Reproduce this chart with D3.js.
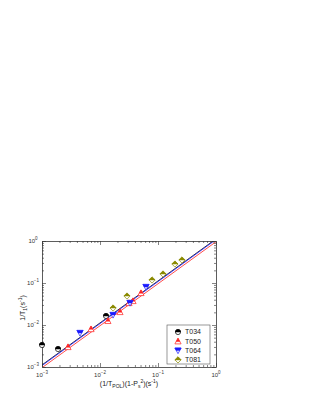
<!DOCTYPE html>
<html><head><meta charset="utf-8">
<script src="https://cdn.jsdelivr.net/npm/d3@7/dist/d3.min.js"></script>
<style>body{margin:0;background:#fff;}svg{display:block;font-family:"Liberation Sans",Arial,sans-serif;}</style>
</head><body><svg id="c" width="316" height="409"></svg>
<script>
const seriesNames = ["T034","T050","T064","T081"];
const seriesColors = ["#000000","#ff2020","#1a1aff","#8a8a00"];
const t034X = [0.00100,0.00189,0.0127];
const t034Y = [0.00334,0.00268,0.0164];
const t050X = [0.00281,0.0070,0.0137,0.0221,0.0316,0.0371,0.0509];
const t050Y = [0.00299,0.0080,0.0125,0.0204,0.0334,0.0373,0.0578];
const t064X = [0.00452,0.0168,0.0329,0.0621];
const t064Y = [0.00645,0.0173,0.0334,0.0803];
const t081X = [0.0168,0.0292,0.0789,0.122,0.196,0.259];
const t081Y = [0.0254,0.049,0.118,0.164,0.283,0.353];
const fitSlopes = [1.12,0.96,1.08]; // black, red, blue : y = a*x
const fitColors = ["#000000","#ff2020","#1a1aff"];
const tickExps = [-3,-2,-1,0];

const svg = d3.select("#c");
const L=42,R=216,T=241,B=367;
const x = d3.scaleLog().domain([1e-3,1]).range([L,R]);
const y = d3.scaleLog().domain([1e-3,1]).range([B,T]);

svg.append("defs").append("clipPath").attr("id","cp").append("rect")
  .attr("x",L).attr("y",T).attr("width",R-L).attr("height",B-T);

fitSlopes.forEach((a,i)=>{
  const xs=[1e-3,1];
  svg.append("path").attr("clip-path","url(#cp)")
    .attr("d",d3.line().x(d=>x(d)).y(d=>y(a*d))(xs))
    .attr("stroke",fitColors[i]).attr("stroke-width",0.8).attr("fill","none");
});

const allTicks=[];
for(let e=-3;e<0;e++) for(let m=1;m<10;m++) allTicks.push(m*Math.pow(10,e));
allTicks.push(1);
function addAxis(axisGen, tr){
  svg.append("g").attr("transform",tr).call(axisGen)
    .call(g=>g.select(".domain").attr("stroke","#333").attr("stroke-width",0.8))
    .call(g=>g.selectAll(".tick line").attr("stroke","#333").attr("stroke-width",0.6)
      .attr("y2",function(d){const v=Math.log10(d);const maj=Math.abs(v-Math.round(v))<1e-9;
        const cur=+d3.select(this).attr("y2");return cur? (cur<0?-1:1)*(maj?4:2):null;})
      .attr("x2",function(d){const v=Math.log10(d);const maj=Math.abs(v-Math.round(v))<1e-9;
        const cur=+d3.select(this).attr("x2");return cur? (cur<0?-1:1)*(maj?4:2):null;}))
    .call(g=>g.selectAll(".tick text").remove());
}
addAxis(d3.axisTop(x).tickValues(allTicks).tickSizeOuter(0),`translate(0,${B})`);
addAxis(d3.axisBottom(x).tickValues(allTicks).tickSizeOuter(0),`translate(0,${T})`);
addAxis(d3.axisRight(y).tickValues(allTicks).tickSizeOuter(0),`translate(${L},0)`);
addAxis(d3.axisLeft(y).tickValues(allTicks).tickSizeOuter(0),`translate(${R},0)`);

tickExps.forEach(e=>{
  const v=Math.pow(10,e);
  const tx=svg.append("text").attr("x",x(v)).attr("y",B+10).attr("text-anchor","middle")
    .attr("font-size",6).attr("fill","#333");
  tx.append("tspan").text("10");
  tx.append("tspan").attr("dy",-3).attr("font-size",4.5).text(e===0?"0":"−"+(-e));
  const ty=svg.append("text").attr("x",L-9).attr("y",y(v)+2).attr("text-anchor","middle")
    .attr("font-size",6).attr("fill","#333");
  ty.append("tspan").text("10");
  ty.append("tspan").attr("dy",-3).attr("font-size",4.5).text(e===0?"0":"−"+(-e));
});

const xl=svg.append("text").attr("x",(L+R)/2).attr("y",386).attr("text-anchor","middle")
  .attr("font-size",7).attr("fill","#222");
xl.append("tspan").text("(1/T");
xl.append("tspan").attr("dy",2).attr("font-size",5).text("POL");
xl.append("tspan").attr("dy",-2).text(")(1-P");
xl.append("tspan").attr("dy",2).attr("font-size",5).text("s");
xl.append("tspan").attr("dy",-5).attr("font-size",5).text("2");
xl.append("tspan").attr("dy",3).text(")(s");
xl.append("tspan").attr("dy",-3).attr("font-size",5).text("-1");
xl.append("tspan").attr("dy",3).text(")");

const yl=svg.append("text").attr("transform",`translate(25,${(T+B)/2+4}) rotate(-90)`)
  .attr("text-anchor","middle").attr("font-size",7).attr("fill","#222");
yl.append("tspan").text("1/T");
yl.append("tspan").attr("dy",2).attr("font-size",5).text("1");
yl.append("tspan").attr("dy",-2).text("(s");
yl.append("tspan").attr("dy",-3).attr("font-size",5).text("-1");
yl.append("tspan").attr("dy",3).text(")");

const s=2.6;
const shapes = {
  T034: {full:`M${-s},0A${s},${s} 0 1,1 ${s},0A${s},${s} 0 1,1 ${-s},0Z`, top:`M${-s},0A${s},${s} 0 0,1 ${s},0Z`},
  T050: {full:`M0,${-s-0.5}L${s+0.5},${s}L${-s-0.5},${s}Z`, top:`M0,${-s-0.5}L${(s+0.5)/2+0.2},0.2L${-(s+0.5)/2-0.2},0.2Z`},
  T064: {full:`M${-s-0.5},${-s}L${s+0.5},${-s}L0,${s+0.5}Z`, top:`M${-s-0.5},${-s}L${s+0.5},${-s}L${(s+0.5)*0.55},0L${-(s+0.5)*0.55},0Z`},
  T081: {full:`M0,${-s-0.5}L${s+0.5},0L0,${s+0.5}L${-s-0.5},0Z`, top:`M0,${-s-0.5}L${s+0.5},0L${-s-0.5},0Z`}
};
function marker(g,name,col,px,py){
  const sh=shapes[name];
  const gg=g.append("g").attr("transform",`translate(${px},${py})`);
  gg.append("path").attr("d",sh.full).attr("fill","#fff").attr("stroke",col).attr("stroke-width",0.7);
  gg.append("path").attr("d",sh.top).attr("fill",col).attr("stroke",col).attr("stroke-width",0.5);
}
const data=[[t034X,t034Y],[t050X,t050Y],[t064X,t064Y],[t081X,t081Y]];
const mg=svg.append("g");
data.forEach((d,i)=>{
  d[0].forEach((xv,j)=>marker(mg,seriesNames[i],seriesColors[i],x(xv),y(d[1][j])));
});

const lg=svg.append("g");
lg.append("rect").attr("x",167).attr("y",325).attr("width",43).attr("height",39)
  .attr("fill","#fff").attr("stroke","#555").attr("stroke-width",0.6);
seriesNames.forEach((n,i)=>{
  const yy=332+i*9.3;
  marker(lg,n,seriesColors[i],178,yy);
  lg.append("text").attr("x",185).attr("y",yy+2.3).attr("font-size",7).attr("fill","#222").text(n);
});
</script></body></html>
